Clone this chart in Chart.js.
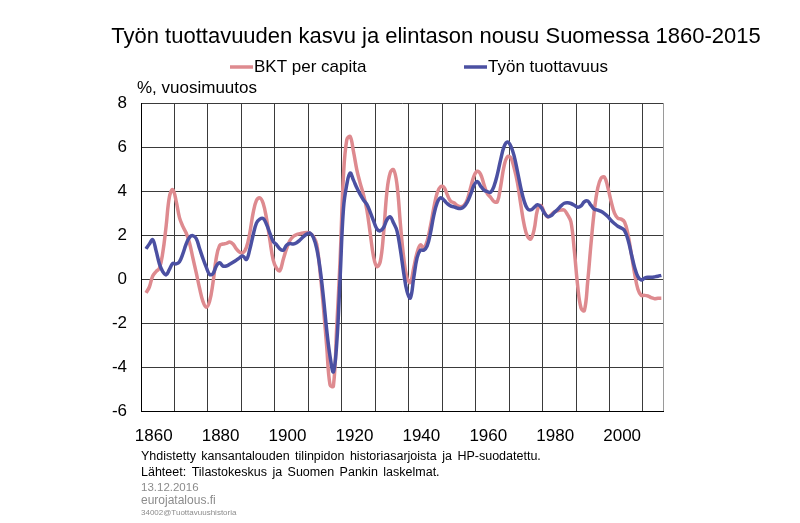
<!DOCTYPE html>
<html>
<head>
<meta charset="utf-8">
<script src="https://cdn.jsdelivr.net/npm/chart.js@4"></script>
<style>
html, body { margin: 0; padding: 0; background: #fff; }
#wrap { width: 800px; height: 523px; position: relative; }
</style>
</head>
<body>
<div id="wrap"><canvas id="tuottavuusChart"></canvas></div>
<script>

var firstYear = 1860;
var lastYear = 2015;
var xTickLabels = [1860, 1880, 1900, 1920, 1940, 1960, 1980, 2000];
var yMin = -6, yMax = 8, yStep = 2;

// BKT per capita, % vuosimuutos (HP-suodatettu), 1860-2015
var bktPerCapita = [
  null, -0.62, -0.35, 0.15, 0.35, 0.5, 1.2, 2.4, 3.75, 4.07,
  3.55, 2.8, 2.4, 2.1, 1.65, 0.97, 0.3, -0.4, -1.0, -1.27,
  -1.0, -0.17, 0.97, 1.53, 1.6, 1.63, 1.69, 1.6, 1.38, 1.23,
  1.21, 1.45, 2.09, 3.0, 3.58, 3.7, 3.45, 2.77, 1.79, 0.88,
  0.5, 0.39, 0.9, 1.39, 1.76, 1.94, 2.03, 2.07, 2.1, 2.12,
  2.09, 1.95, 1.6, 0.35, -1.24, -3.06, -4.8, -4.85, -2.15, 0.88,
  4.67, 6.33, 6.48, 5.8, 4.97, 4.36, 3.83, 3.15, 2.09, 1.03,
  0.58, 0.8, 2.09, 3.98, 4.85, 4.97, 4.3, 2.55, 1.0, 0.06,
  -0.14, 0.52, 1.2, 1.56, 1.42, 1.73, 2.41, 3.24, 3.92, 4.2,
  4.18, 3.85, 3.55, 3.47, 3.35, 3.29, 3.35, 3.62, 4.15, 4.68,
  4.9, 4.76, 4.3, 3.88, 3.72, 3.53, 3.52, 4.23, 5.14, 5.56,
  5.52, 5.06, 4.38, 3.39, 2.48, 1.95, 1.83, 2.26, 3.17, 3.35,
  3.05, 2.83, 2.92, 3.05, 3.11, 3.14, 3.14, 2.92, 2.6, 1.3,
  -0.3, -1.3, -1.42, -0.1, 1.64, 3.15, 4.14, 4.59, 4.64, 4.18,
  3.53, 3.0, 2.77, 2.73, 2.6, 2.06, 1.18, 0.27, -0.45, -0.73,
  -0.73, -0.76, -0.83, -0.88, -0.86, -0.86
];

// Työn tuottavuus, % vuosimuutos (HP-suodatettu), 1860-2015
var tyonTuottavuus = [
  null, 1.38, 1.6, 1.8, 1.3, 0.7, 0.35, 0.2, 0.45, 0.72,
  0.7, 0.8, 1.15, 1.6, 1.9, 1.98, 1.85, 1.4, 0.95, 0.55,
  0.22, 0.25, 0.6, 0.75, 0.6, 0.6, 0.68, 0.77, 0.87, 0.98,
  1.05, 0.9, 1.35, 2.0, 2.55, 2.73, 2.76, 2.5, 2.1, 1.72,
  1.57, 1.38, 1.32, 1.55, 1.62, 1.6, 1.66, 1.78, 1.93, 2.05,
  2.1, 1.9, 1.4, 0.5, -0.8, -2.3, -3.5, -4.2, -2.9, 0.05,
  3.2, 4.3, 4.82, 4.5, 4.15, 3.85, 3.6, 3.4, 3.05, 2.65,
  2.28, 2.2, 2.35, 2.7, 2.83, 2.55, 2.2, 1.35, 0.3, -0.55,
  -0.85, 0.06, 0.97, 1.32, 1.32, 1.5, 2.1, 2.9, 3.47, 3.7,
  3.6, 3.44, 3.33, 3.29, 3.23, 3.21, 3.29, 3.5, 3.85, 4.26,
  4.44, 4.23, 4.05, 3.98, 3.95, 4.23, 4.76, 5.44, 6.02, 6.23,
  6.05, 5.6, 4.9, 4.15, 3.55, 3.2, 3.15, 3.26, 3.38, 3.29,
  3.02, 2.85, 2.88, 3.03, 3.17, 3.33, 3.45, 3.47, 3.44, 3.36,
  3.27, 3.33, 3.52, 3.55, 3.35, 3.18, 3.14, 3.08, 2.98, 2.85,
  2.67, 2.53, 2.41, 2.33, 2.21, 1.82, 1.18, 0.55, 0.12, -0.03,
  0.05, 0.09, 0.09, 0.11, 0.14, 0.18
];

var chartTitle = "Työn tuottavuuden kasvu ja elintason nousu Suomessa 1860-2015";
var yAxisCaption = "%, vuosimuutos";
var footLines = [
  "Yhdistetty kansantalouden tilinpidon historiasarjoista ja HP-suodatettu.",
  "Lähteet: Tilastokeskus ja Suomen Pankin laskelmat."
];
var footDate = "13.12.2016";
var footSite = "eurojatalous.fi";
var footCode = "34002@Tuottavuushistoria";

var years = [];
for (var y = firstYear; y <= lastYear; y++) years.push(y);

var FONT = '"Liberation Sans", Arial, sans-serif';

var textPlugin = {
  id: 'tekstit',
  afterDraw: function (chart) {
    var c = chart.ctx;
    c.save();
    c.textBaseline = 'middle';
    c.fillStyle = '#000';

    c.font = '22px ' + FONT;
    c.textAlign = 'center';
    c.fillText(chartTitle, 436, 37);

    // selite
    c.textAlign = 'left';
    c.font = '17px ' + FONT;
    var legendX = [230, 464];
    chart.data.datasets.forEach(function (ds, i) {
      c.strokeStyle = ds.borderColor;
      c.lineWidth = ds.borderWidth;
      c.beginPath();
      c.moveTo(legendX[i], 67);
      c.lineTo(legendX[i] + 23, 67);
      c.stroke();
      c.fillStyle = '#000';
      c.fillText(ds.label, legendX[i] + 24, 67);
    });

    c.fillText(yAxisCaption, 137, 88);

    c.font = '12.5px ' + FONT;
    c.wordSpacing = '2px';
    c.fillText(footLines[0], 141, 457);
    c.fillText(footLines[1], 141, 473);
    c.wordSpacing = '0px';
    c.fillStyle = '#8c8c8c';
    c.font = '11.5px ' + FONT;
    c.fillText(footDate, 141, 488);
    c.font = '12px ' + FONT;
    c.fillText(footSite, 141, 501);
    c.font = '8px ' + FONT;
    c.fillText(footCode, 141, 513);
    c.restore();
  }
};

function draw_tuottavuus_chart() {

  new Chart("tuottavuusChart", {
    type: "line",
    data: {
      labels: years,
      datasets: [{
        label: "BKT per capita",
        data: bktPerCapita,
        borderColor: "#de8a8f",
        borderWidth: 3.5,
        tension: 0.4,
        pointRadius: 0,
        fill: false,
        order: 2
      }, {
        label: "Työn tuottavuus",
        data: tyonTuottavuus,
        borderColor: "#4b50a2",
        borderWidth: 3.5,
        tension: 0.4,
        pointRadius: 0,
        fill: false,
        order: 1
      }]
    },
    options: {
      responsive: true,
      maintainAspectRatio: false,
      animation: false,
      layout: { padding: { left: 0, right: 137, top: 103, bottom: 71.5 } },
      plugins: {
        legend: { display: false },
        title: { display: false },
        tooltip: { enabled: false }
      },
      scales: {
        x: {
          type: 'category',
          offset: true,
          grid: {
            offset: true,
            drawTicks: false,
            lineWidth: 1,
            color: function (ctx) {
              if (ctx.index === undefined) return '#9a9a9a';
              return ctx.index % 10 === 0 ? '#3a3a3a' : 'rgba(0,0,0,0)';
            }
          },
          border: { color: '#000', width: 1 },
          ticks: {
            autoSkip: false,
            maxRotation: 0,
            padding: 15,
            labelOffset: 11,
            color: '#000',
            font: { family: FONT, size: 17 },
            callback: function (val, i) {
              var yr = years[i];
              return xTickLabels.indexOf(yr) >= 0 ? String(yr) : '';
            }
          },
          afterFit: function (s) { s.height = 40; }
        },
        y: {
          min: yMin,
          max: yMax,
          grid: { color: '#3a3a3a', lineWidth: 1, drawTicks: false },
          border: { color: '#000', width: 1 },
          ticks: {
            stepSize: yStep,
            padding: 14,
            color: '#000',
            font: { family: FONT, size: 17 }
          },
          afterFit: function (s) { s.width = 141; }
        }
      }
    },
    plugins: [textPlugin]
  });

}//draw_tuottavuus_chart

draw_tuottavuus_chart();
</script>
</body>
</html>
